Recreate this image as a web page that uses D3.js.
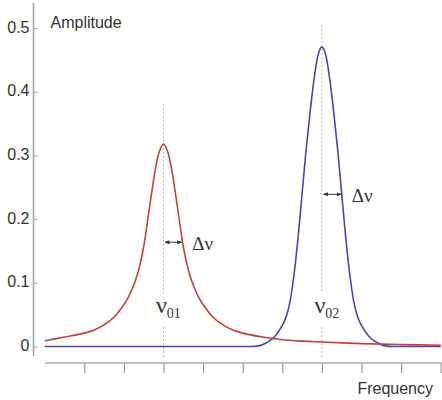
<!DOCTYPE html>
<html><head><meta charset="utf-8">
<script src="https://cdn.jsdelivr.net/npm/d3@7"></script>
<style>body{margin:0;background:#fff}svg{display:block}</style>
</head><body>
<script>
const xTickValues = [1,2,3,4,5,6,7,8,9,10];
const yTickValues = [0,0.1,0.2,0.3,0.4,0.5];
const yTickLabels = ["0","0.1","0.2","0.3","0.4","0.5"];
const redFreq = [0,0.5,1,1.25,1.5,1.75,2,2.1,2.2,2.3,2.4,2.5,2.6,2.7,2.8,2.9,3,3.1,3.2,3.3,3.4,3.5,3.6,3.7,3.8,3.9,4,4.25,4.5,4.75,5,5.5,6,6.5,7,8,9,10];
const redAmp  = [0.009,0.0148,0.021,0.026,0.034,0.046,0.066,0.076,0.089,0.105,0.127,0.157,0.198,0.241,0.280,0.307,0.318,0.307,0.280,0.241,0.198,0.157,0.127,0.105,0.089,0.076,0.066,0.046,0.034,0.026,0.021,0.0148,0.0105,0.0085,0.007,0.0045,0.003,0.002];
const blueFreq = [0,5,5.2,5.4,5.6,5.8,6,6.1,6.2,6.3,6.4,6.5,6.6,6.7,6.8,6.9,7,7.1,7.2,7.3,7.4,7.5,7.6,7.7,7.8,7.9,8,8.2,8.4,8.6,8.8,9,10];
const blueAmp  = [0,0,0,0.001,0.006,0.015,0.033,0.047,0.072,0.115,0.172,0.240,0.308,0.367,0.419,0.457,0.470,0.457,0.419,0.367,0.308,0.240,0.172,0.115,0.072,0.047,0.033,0.015,0.006,0.001,0,0,0];
const peakFreq = [3, 7];
const peakAmp = [0.318, 0.470];
const peakSub = ["01", "02"];
const halfWidth = [0.46, 0.49];
const peakColors = ["#c43f3f", "#4a46a8"];

const W = 442, H = 400;
const svg = d3.select("body").append("svg").attr("width", W).attr("height", H);
const x = d3.scaleLinear().domain([0, 10]).range([44.7, 440.7]);
const y = d3.scaleLinear().domain([0, 0.5]).range([346.5, 28]);
const font = "'Liberation Sans', Arial, sans-serif";
const serif = "'Liberation Serif', 'Times New Roman', serif";

const defs = svg.append("defs");
defs.append("marker").attr("id","ah").attr("viewBox","0 0 10 10").attr("refX",9).attr("refY",5)
  .attr("markerWidth",5).attr("markerHeight",5).attr("orient","auto-start-reverse")
  .append("path").attr("d","M0,1 L10,5 L0,9 Z").attr("fill","#333");

// Y axis
const yAxis = svg.append("g").attr("transform", "translate(33.5,0)")
  .call(d3.axisRight(y).tickValues(yTickValues).tickSize(4).tickFormat(""));
yAxis.select(".domain").remove();
yAxis.selectAll(".tick line").attr("stroke", "#aaa").attr("stroke-width", 1);
svg.append("line").attr("x1",33.5).attr("x2",33.5).attr("y1",3).attr("y2",356)
  .attr("stroke","#a3a3a3").attr("stroke-width",1.5);
svg.append("g").selectAll("text").data(yTickValues).join("text")
  .attr("x", 29.5).attr("y", d => y(d) + 4.5).attr("text-anchor","end")
  .attr("font-family", font).attr("font-size", 16).attr("fill", "#333")
  .text((d,i) => yTickLabels[i]);

// X axis
const xAxis = svg.append("g").attr("transform", "translate(0,363)")
  .call(d3.axisBottom(x).tickValues(xTickValues).tickSize(10).tickFormat(""));
xAxis.select(".domain").remove();
xAxis.selectAll(".tick line").attr("stroke", "#999").attr("stroke-width", 1.2);
svg.append("line").attr("x1", x(0)).attr("x2", 442).attr("y1", 363).attr("y2", 363)
  .attr("stroke", "#aaa").attr("stroke-width", 1.5);

svg.append("text").attr("x", 50.5).attr("y", 27.5).attr("font-family", font)
  .attr("font-size", 16).attr("fill", "#333").text("Amplitude");
svg.append("text").attr("x", 433).attr("y", 394).attr("text-anchor","end").attr("font-family", font)
  .attr("font-size", 16).attr("fill", "#333").text("Frequency");

// dotted centre lines
const lineTops = [y(peakAmp[0]) - 40, y(peakAmp[1]) - 22];
peakFreq.forEach((f, i) => {
  const px = x(f);
  svg.append("line").attr("x1", px).attr("x2", px).attr("y1", lineTops[i]).attr("y2", 293)
    .attr("stroke", "#bbb").attr("stroke-width", 1).attr("stroke-dasharray", "2,2");
  svg.append("line").attr("x1", px).attr("x2", px).attr("y1", 327).attr("y2", 358)
    .attr("stroke", "#bbb").attr("stroke-width", 1).attr("stroke-dasharray", "2,2");
  const t = svg.append("text").attr("x", px - 7.5).attr("y", 313)
    .attr("font-family", serif).attr("font-size", 24).attr("fill", "#333");
  t.append("tspan").text("ν");
  t.append("tspan").attr("font-size", 14).attr("dy", 5).text(peakSub[i]);
});

// curves
const line = d3.line().x(d => x(d[0])).y(d => y(d[1])).curve(d3.curveMonotoneX);
const smooth = d3.line().x(d => x(d[0])).y(d => y(d[1])).curve(d3.curveCatmullRom.alpha(0.5));
svg.append("path").datum(blueFreq.map((f, i) => [f, blueAmp[i]]))
  .attr("d", line).attr("fill", "none").attr("stroke", peakColors[1]).attr("stroke-width", 1.6);
svg.append("path").datum(redFreq.map((f, i) => [f, redAmp[i]]))
  .attr("d", smooth).attr("fill", "none").attr("stroke", peakColors[0]).attr("stroke-width", 1.6);

// width arrows
const arrowY = [y(peakAmp[0] / 2) - 3, y(peakAmp[1] / 2) - 2.5];
peakFreq.forEach((f, i) => {
  const x1 = x(f) + 1.5, x2 = x(f + halfWidth[i]);
  svg.append("line").attr("x1", x1).attr("x2", x2).attr("y1", arrowY[i]).attr("y2", arrowY[i])
    .attr("stroke", "#333").attr("stroke-width", 1)
    .attr("marker-start", "url(#ah)").attr("marker-end", "url(#ah)");
  svg.append("text").attr("x", x2 + 10.5).attr("y", arrowY[i] + 7.5)
    .attr("font-family", serif).attr("font-size", 19).attr("fill", "#333").text("Δν");
});
</script>
</body></html>
